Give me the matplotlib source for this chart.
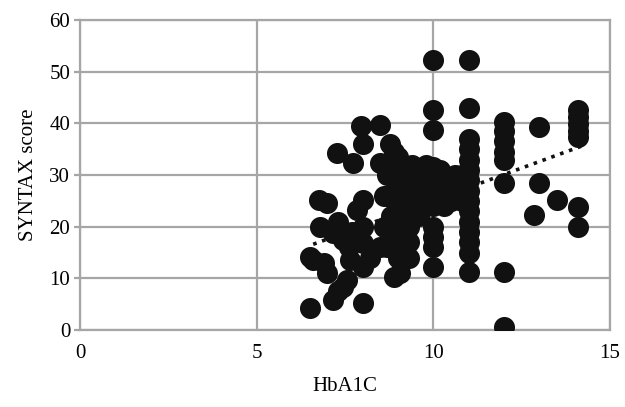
import matplotlib.pyplot as plt

# HbA1C vs SYNTAX score
hba1c = [6.5, 7.15, 8.0, 7.45, 7.55, 7.3, 7.0, 6.9, 6.5, 7.65, 8.0, 6.8, 6.75, 7.0,
         7.17, 7.45, 7.85, 8.0, 8.0, 8.0, 7.6, 7.27, 7.73, 7.95, 8.0, 8.5, 8.5, 8.77,
         7.3, 7.7, 8.2, 6.6,
         8.9, 9.06, 9.0, 9.0, 9.0, 9.0, 9.0, 9.0, 9.0, 9.0, 9.0, 9.0, 9.0,
         8.7, 8.7, 8.7, 8.7, 9.3, 9.3, 9.3, 9.3, 9.5, 9.5, 9.5, 9.5, 8.5, 8.6,
         9.2, 9.4, 9.6, 9.7, 8.8, 8.6, 9.3, 8.9,
         10.0, 10.0, 10.0, 10.0, 10.0, 10.0, 10.0, 10.0, 10.0, 10.0, 10.0,
         9.8, 10.2, 10.4, 10.5, 10.6, 10.3, 10.5,
         11.0, 11.0, 11.0, 11.0, 11.0, 11.0, 11.0, 11.0, 11.0, 11.0, 11.0, 11.0, 11.0,
         11.0, 11.0, 10.8, 10.8, 10.8,
         12.0, 12.0, 12.0, 12.0, 12.0, 12.0, 12.0, 12.0,
         13.0, 13.0, 12.85, 13.5,
         14.1, 14.1, 14.1, 14.1, 14.1, 14.1, 14.1]
syntax = [4.3, 5.8, 5.2, 8.3, 9.7, 7.5, 11.0, 12.9, 14.1, 13.5, 12.2, 20.0, 25.2, 24.6,
          18.7, 17.4, 23.2, 25.2, 20.0, 16.8, 16.0, 34.2, 32.3, 39.5, 36.0, 39.7, 32.3, 36.0,
          21.0, 19.0, 14.0, 13.5,
          10.3, 11.0, 14.0, 16.0, 18.0, 20.0, 22.0, 24.0, 26.0, 28.0, 30.0, 32.0, 33.5,
          16.0, 26.0, 30.0, 31.6, 17.0, 20.0, 23.0, 26.0, 24.0, 26.0, 28.0, 30.0, 16.0, 26.0,
          29.0, 32.0, 22.0, 26.0, 22.0, 20.0, 14.0, 34.5,
          12.2, 16.0, 18.0, 20.0, 24.0, 27.0, 29.0, 31.5, 38.7, 42.6, 52.3,
          32.0, 31.0, 26.0, 28.0, 30.0, 24.0, 25.0,
          11.2, 15.0, 17.0, 19.0, 21.0, 23.0, 25.0, 27.0, 29.0, 31.0, 33.0, 35.0, 37.0,
          43.0, 52.3, 25.0, 27.0, 30.0,
          0.6, 11.2, 28.4, 32.9, 34.5, 36.5, 38.5, 40.3,
          39.3, 28.4, 22.3, 25.2,
          42.6, 41.2, 39.8, 38.5, 37.3, 23.8, 20.0]

# dotted linear trend line endpoints
trend_x = [6.6, 14.2]
trend_y = [16.6, 35.6]

plt.rcParams['font.family'] = ['Liberation Serif', 'DejaVu Serif']

fig = plt.figure(figsize=(6.25, 4.07), dpi=100)
ax = fig.add_axes([0.128, 0.189, 0.848, 0.762])

ax.scatter(hba1c, syntax, s=230, color='#111111', linewidths=0, zorder=3)
ax.plot(trend_x, trend_y, color='#111111', linestyle=(0, (1, 1.6)), linewidth=2.6, zorder=4)

ax.set_xlim(0, 15)
ax.set_ylim(0, 60)
ax.set_xticks([0, 5, 10, 15])
ax.set_yticks(range(0, 61, 10))
ax.grid(True, color='#a6a6a6', linewidth=1.6)
ax.set_axisbelow(True)
for sp in ax.spines.values():
    sp.set_color('#a6a6a6')
    sp.set_linewidth(1.6)
ax.tick_params(axis='y', length=4, width=1.6, color='#a6a6a6', labelsize=15, pad=3)
ax.tick_params(axis='x', length=0, labelsize=15, pad=10)

ax.set_xlabel('HbA1C', fontsize=15, labelpad=10)
ax.set_ylabel('SYNTAX score', fontsize=15, labelpad=8)

fig.savefig('out.png', dpi=100)
